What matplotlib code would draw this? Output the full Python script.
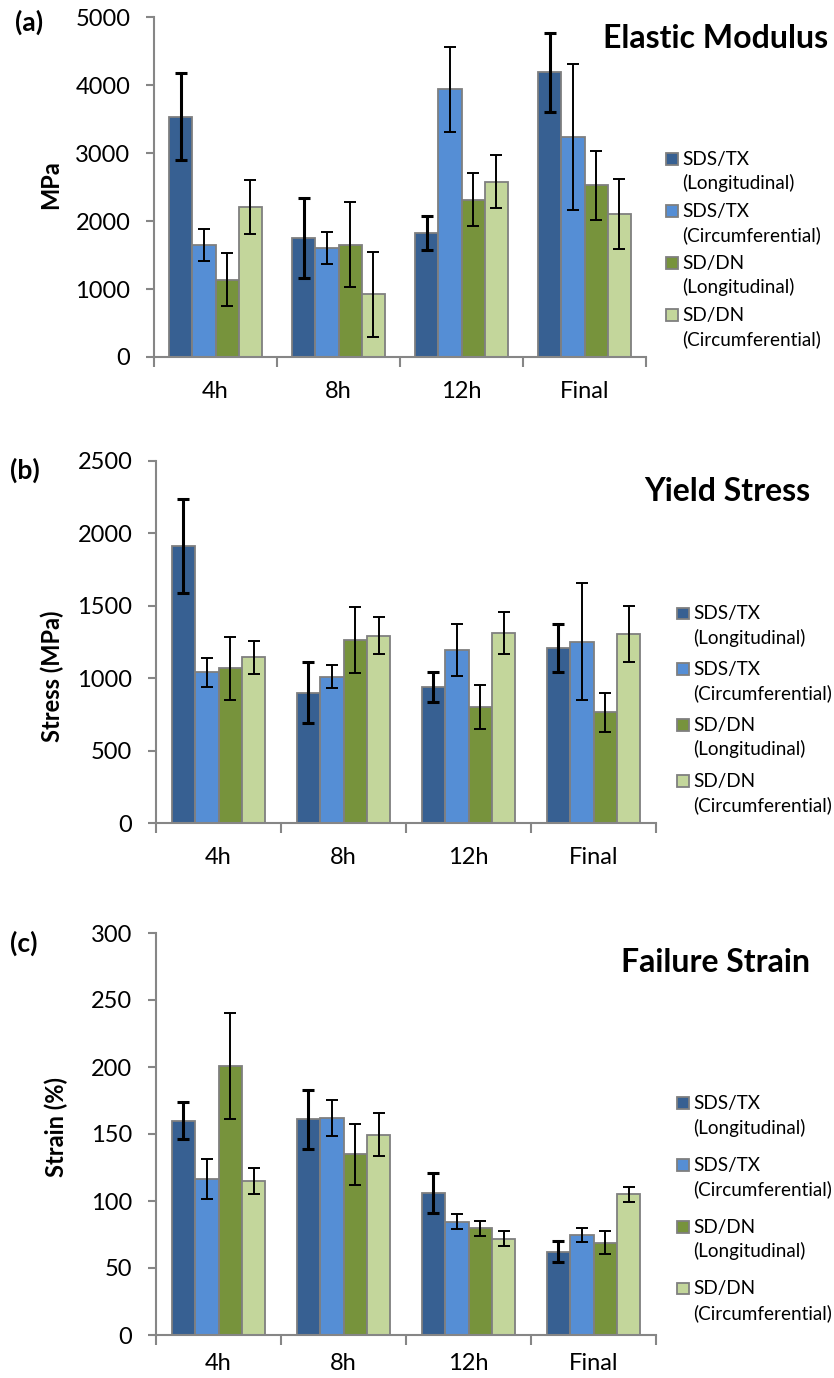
# Three grouped bar panels (elastic modulus, yield stress, failure strain)
import numpy as np
import matplotlib.pyplot as plt
from matplotlib.patches import Rectangle

plt.rcParams['font.family'] = ['Lato', 'DejaVu Sans']

## data
groups = ["4h", "8h", "12h", "Final"]
series = ["SDS/TX\n(Longitudinal)", "SDS/TX\n(Circumferential)",
          "SD/DN\n(Longitudinal)", "SD/DN\n(Circumferential)"]
colors = ["#376092", "#558ED5", "#77933C", "#C3D69B"]

# elastic modulus (MPa), one list per series, values for 4h, 8h, 12h, Final
modulus = [[3530, 1750, 1825, 4190],
           [1645, 1600, 3940, 3240],
           [1135, 1650, 2310, 2525],
           [2205, 925, 2575, 2105]]
modulus_err = [[640, 590, 245, 580],
               [240, 235, 625, 1075],
               [390, 625, 390, 510],
               [395, 625, 390, 510]]

# yield stress (MPa)
stress = [[1915, 900, 940, 1208],
          [1040, 1010, 1195, 1252],
          [1068, 1262, 803, 765],
          [1143, 1293, 1310, 1305]]
stress_err = [[325, 210, 103, 163],
              [100, 80, 179, 406],
              [218, 228, 153, 135],
              [117, 127, 146, 196]]

# failure strain (%)
strain = [[160, 161, 106, 62],
          [116.5, 162, 84.5, 74.7],
          [201, 135, 79.5, 68.7],
          [115, 149.5, 72, 105]]
strain_err = [[14, 22, 14.7, 7.8],
              [15, 13.5, 5.6, 5.4],
              [39.5, 22.7, 5.5, 8.6],
              [10, 16, 5.6, 5.8]]

W, H = 834, 1378
fig = plt.figure(figsize=(W / 100, H / 100), dpi=100)


def px(x, y):
    # pixel position (from top-left) -> figure fraction
    return x / W, 1 - y / H


def panel(box, vals, errs, ymax, ystep, letter, letter_xy, title, title_xy,
          ylabel, ylabel_xy, leg_x, leg_base, xpad):
    l, t, r, b = box
    x0, y0 = px(l, b)
    x1, y1 = px(r, t)
    ax = fig.add_axes([x0, y0, x1 - x0, y1 - y0])
    x = np.arange(len(groups))
    w = 0.187
    for i in range(len(series)):
        xi = x + (i - 1.5) * w
        ax.bar(xi, vals[i], w, color=colors[i], edgecolor="#7F7F7F",
               linewidth=1.3, zorder=2)
    for i in range(len(series)):
        xi = x + (i - 1.5) * w
        lw = 2.2 if i == 0 else 1.4
        ax.errorbar(xi, vals[i], yerr=errs[i], fmt="none", ecolor="black",
                    elinewidth=lw, capsize=4.3, capthick=lw, zorder=3)

    ax.set_xlim(-0.5, len(groups) - 0.5)
    ax.set_ylim(0, ymax)
    ax.set_yticks(np.arange(0, ymax + 1, ystep))
    ax.set_xticks(x)
    ax.set_xticklabels(groups)
    ax.set_xticks(np.arange(-0.5, len(groups)), minor=True)
    ax.tick_params(axis="x", which="major", length=0, pad=xpad, labelsize=17)
    ax.tick_params(axis="x", which="minor", length=7, width=1.5,
                   color="#868686", direction="out")
    ax.tick_params(axis="y", length=6, width=1.5, color="#868686",
                   pad=11, labelsize=17)
    for s in ["top", "right"]:
        ax.spines[s].set_visible(False)
    for s in ["left", "bottom"]:
        ax.spines[s].set_color("#868686")
        ax.spines[s].set_linewidth(1.5)

    fig.text(*px(*letter_xy), letter, fontsize=19, fontweight="bold",
             ha="left", va="center")
    fig.text(*px(*title_xy), title, fontsize=23, fontweight="bold",
             ha="right", va="center")
    fig.text(*px(*ylabel_xy), ylabel, fontsize=17, fontweight="bold",
             rotation=90, ha="center", va="center")

    # legend, square next to the first line of each label
    for i, lab in enumerate(series):
        line1, line2 = lab.split("\n")
        base = leg_base[i]
        fig.patches.append(Rectangle(px(leg_x, base), 11.7 / W, 11.7 / H,
                                     transform=fig.transFigure,
                                     facecolor=colors[i],
                                     edgecolor="#7F7F7F", linewidth=1.3))
        fig.text(*px(leg_x + 16, base), line1, fontsize=13.6,
                 ha="left", va="baseline")
        fig.text(*px(leg_x + 16, base + 24.6), line2, fontsize=13.6,
                 ha="left", va="baseline")
    return ax


panel((154, 17, 646, 357), modulus, modulus_err, 5000, 1000,
      "(a)", (15, 22), "Elastic Modulus", (828, 38), "MPa", (51, 185),
      666, [164.5, 216.5, 268.7, 320.7], 17)

panel((156, 461, 656, 823), stress, stress_err, 2500, 500,
      "(b)", (10, 470), "Yield Stress", (810, 491), "Stress (MPa)", (52, 676),
      677, [619.3, 675, 730.7, 786.7], 17)

panel((156, 933, 656, 1335), strain, strain_err, 300, 50,
      "(c)", (10, 943), "Failure Strain", (810, 962), "Strain (%)", (56, 1127),
      677, [1109, 1170.7, 1232.7, 1294.3], 13)

fig.savefig("out.png", dpi=100)
print("Done")
